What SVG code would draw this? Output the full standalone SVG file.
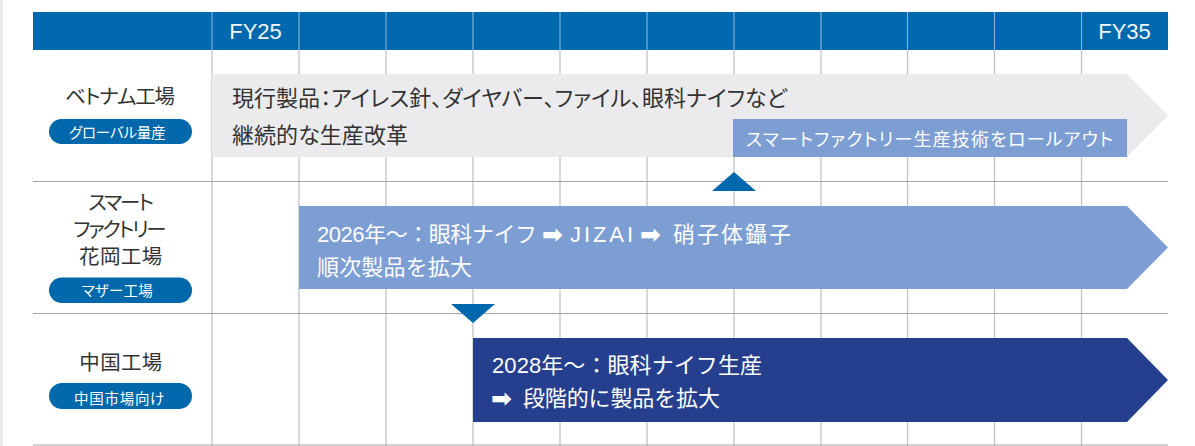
<svg xmlns="http://www.w3.org/2000/svg" width="1195" height="446" viewBox="0 0 1195 446">
<style>
.jp{font-family:"Liberation Sans","Noto Sans CJK JP",sans-serif;font-feature-settings:"palt"}
.np{font-feature-settings:normal}
.arw{font-family:"DejaVu Sans",sans-serif;fill:#fff;font-size:25px;font-weight:bold}
.hd{font-family:"Liberation Sans",Arial,sans-serif;font-size:22px;fill:#f2f6fa;text-anchor:middle}
.lbl{fill:#333;font-size:20.5px}
.pill{fill:#0068ab}
.pt{fill:#fff;font-size:14.5px}
.vg{stroke:#c4c4c4;stroke-width:1.3}
.hg{stroke:#a3a3a3;stroke-width:1.2}
.vh{stroke:#7fb0d8;stroke-width:1.2}
.wt{fill:#fff;font-size:22px}
.dk{fill:#333;font-size:22px}
</style>
<rect x="0" y="0" width="1195" height="446" fill="#fff"/>
<rect x="0" y="0" width="3" height="446" fill="#ececee"/>
<g id="grid">
<rect x="33" y="12" width="1135" height="38" fill="#0068ac"/>
<g class="vh">
<line x1="212" y1="12" x2="212" y2="50"/><line x1="299" y1="12" x2="299" y2="50"/><line x1="386" y1="12" x2="386" y2="50"/><line x1="473" y1="12" x2="473" y2="50"/><line x1="560" y1="12" x2="560" y2="50"/><line x1="647" y1="12" x2="647" y2="50"/><line x1="734" y1="12" x2="734" y2="50"/><line x1="821" y1="12" x2="821" y2="50"/><line x1="907.5" y1="12" x2="907.5" y2="50"/><line x1="994.5" y1="12" x2="994.5" y2="50"/><line x1="1081.5" y1="12" x2="1081.5" y2="50"/>
</g>
<g class="vg">
<line x1="212" y1="50" x2="212" y2="446"/><line x1="299" y1="50" x2="299" y2="446"/><line x1="386" y1="50" x2="386" y2="446"/><line x1="473" y1="50" x2="473" y2="446"/><line x1="560" y1="50" x2="560" y2="446"/><line x1="647" y1="50" x2="647" y2="446"/><line x1="734" y1="50" x2="734" y2="446"/><line x1="821" y1="50" x2="821" y2="446"/><line x1="907.5" y1="50" x2="907.5" y2="446"/><line x1="994.5" y1="50" x2="994.5" y2="446"/><line x1="1081.5" y1="50" x2="1081.5" y2="446"/>
</g>
<g class="hg">
<line x1="33" y1="181.5" x2="1168" y2="181.5"/><line x1="33" y1="313.5" x2="1168" y2="313.5"/><line x1="33" y1="445" x2="1168" y2="445"/>
</g>
<text class="hd" x="255.5" y="39.3">FY25</text>
<text class="hd" x="1124.5" y="39.3">FY35</text>
</g>
<g id="row-vietnam">
<text class="jp lbl" x="65" y="104" textLength="110">ベトナム工場</text>
<rect class="pill" x="49" y="119" width="143" height="25" rx="12.5"/>
<text class="jp pt" x="69" y="137.8" textLength="96.7">グローバル量産</text>
</g>
<g id="row-hanaoka">
<text class="jp lbl" x="88.3" y="210" textLength="65.7">スマート</text>
<text class="jp lbl" x="73.3" y="237" textLength="93.4">ファクトリー</text>
<text class="jp lbl" x="79" y="264" textLength="83.3">花岡工場</text>
<rect class="pill" x="49" y="277.5" width="143" height="25.5" rx="12.7"/>
<text class="jp pt" x="81.7" y="295.5" textLength="71">マザー工場</text>
</g>
<g id="row-china">
<text class="jp lbl" x="79.3" y="370" textLength="83">中国工場</text>
<rect class="pill" x="49" y="383" width="143" height="26" rx="13"/>
<text class="jp pt" x="74" y="403.5" textLength="90.3">中国市場向け</text>
</g>
<g id="bar-vietnam">
<polygon points="212,74 1127,74 1168,115.5 1127,157 212,157" fill="#ebebed"/>
<text class="jp dk" x="232" y="106" textLength="555">現行製品：アイレス針、ダイヤバー、ファイル、眼科ナイフなど</text>
<text class="jp dk" x="232" y="142.5" textLength="176">継続的な生産改革</text>
</g>
<g id="box-rollout">
<rect x="733" y="119" width="394" height="38" fill="#7c9ed3"/>
<text class="jp" x="746" y="146" font-size="18" fill="#fff" textLength="367">スマートファクトリー生産技術をロールアウト</text>
</g>
<g id="bar-hanaoka">
<polygon points="299,206 1127,206 1168,247.5 1127,289 299,289" fill="#7c9ed3"/>
<text class="jp np wt" x="317" y="242" textLength="220">2026年～：眼科ナイフ</text>
<text class="arw" x="542" y="242.5">➡</text>
<text class="jp np wt" x="570" y="242" font-size="23" textLength="63">JIZAI</text>
<text class="arw" x="640" y="242.5">➡</text>
<text class="jp np wt" x="673" y="242" textLength="118">硝子体鑷子</text>
<text class="jp np wt" x="317" y="274.5" textLength="155">順次製品を拡大</text>
</g>
<g id="bar-china">
<polygon points="473,338 1127,338 1168,380 1127,422 473,422" fill="#253f8e"/>
<text class="jp np wt" x="492" y="372.5" textLength="270">2028年～：眼科ナイフ生産</text>
<text class="arw" x="491" y="406.5">➡</text>
<text class="jp np wt" x="523" y="406" textLength="197">段階的に製品を拡大</text>
</g>
<g id="connectors">
<polygon points="712,191 734,172 756,191" fill="#0068ac"/>
<polygon points="451,304 495,304 473,323" fill="#0068ac"/>
</g>
</svg>
